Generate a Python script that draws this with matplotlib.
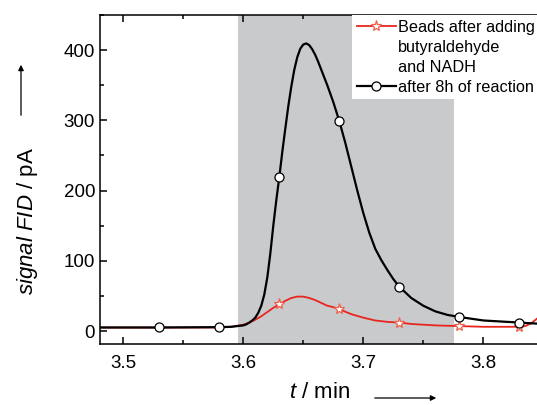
import matplotlib
matplotlib.use("Agg")
import matplotlib.pyplot as plt
from matplotlib.lines import Line2D
from matplotlib.ticker import MultipleLocator

plt.rcParams['font.family'] = ['Liberation Sans', 'DejaVu Sans']
plt.rcParams['mathtext.fontset'] = 'custom'
plt.rcParams['mathtext.rm'] = 'Liberation Sans'
plt.rcParams['mathtext.it'] = 'Liberation Sans:italic'

# black trace: after 8h of reaction
t_black = [3.48, 3.53, 3.58, 3.59, 3.595, 3.60, 3.6025, 3.605, 3.6075, 3.61,
           3.6125, 3.615, 3.6175, 3.62, 3.6225, 3.625, 3.6275, 3.63, 3.6325,
           3.635, 3.6375, 3.64, 3.6425, 3.645, 3.6475, 3.65, 3.6525, 3.655,
           3.6575, 3.66, 3.6625, 3.665, 3.6675, 3.67, 3.675,
           3.68, 3.685, 3.69, 3.695, 3.70, 3.705, 3.71, 3.715, 3.72, 3.725,
           3.73, 3.74, 3.75, 3.76, 3.77, 3.78, 3.80, 3.83, 3.85]
fid_black = [5, 5, 5.5, 6, 7, 8, 9.5, 12, 15, 19,
             26, 36, 52, 76, 110, 150, 186, 219, 255,
             288, 320, 348, 372, 390, 402, 408, 409.5, 407,
             401, 393, 383, 372, 361, 350, 326,
             299, 268, 234, 200, 168, 140, 117, 101, 87, 74,
             63, 47, 36, 28, 23, 20, 15, 12, 10]

# red trace: beads after adding butyraldehyde and NADH
t_red = [3.48, 3.53, 3.58, 3.59, 3.60, 3.605, 3.61, 3.615, 3.62, 3.625,
         3.63, 3.635, 3.64, 3.645, 3.65, 3.655, 3.66, 3.665, 3.67, 3.675,
         3.68, 3.69, 3.70, 3.71, 3.72, 3.73, 3.74, 3.76, 3.78, 3.80,
         3.83, 3.835, 3.84, 3.845, 3.85]
fid_red = [5, 5, 5, 6, 9, 12, 16, 21, 27, 33,
           38, 43, 47, 49, 49, 47, 44, 40, 36, 34,
           31, 24, 19, 15, 13, 12, 10, 8, 7, 6,
           6, 7, 11, 18, 26]

marks_black = [3.53, 3.58, 3.63, 3.68, 3.73, 3.78, 3.83]
marks_red = [3.63, 3.68, 3.73, 3.78, 3.83]

label_red = "Beads after adding"
label_red2 = "butyraldehyde"
label_red3 = "and NADH"
label_black = "after 8h of reaction"

fig = plt.figure(figsize=(5.37, 4.05), dpi=100)
ax = fig.add_axes([100/537, 1-344/405, 443.3/537, 329/405])

ax.axvspan(3.596, 3.776, color='#c9cacc', lw=0, zorder=0)

red, = ax.plot(t_red, fid_red, color='#e8251f', lw=1.3,
               marker='*', ms=8, mfc='white', mec='#f0604a', mew=0.9,
               markevery=[t_red.index(m) for m in marks_red], zorder=2)
black, = ax.plot(t_black, fid_black, color='black', lw=1.6,
                 marker='o', ms=6.5, mfc='white', mec='black', mew=0.9,
                 markevery=[t_black.index(m) for m in marks_black], zorder=3)

ax.set_xlim(3.4806, 3.85)
ax.set_ylim(-18.5, 450)
ax.xaxis.set_major_locator(MultipleLocator(0.1))
ax.xaxis.set_minor_locator(MultipleLocator(0.05))
ax.yaxis.set_major_locator(MultipleLocator(100))
ax.yaxis.set_minor_locator(MultipleLocator(50))
ax.tick_params(which='both', direction='in', top=True, right=False, width=1.1,
               labelsize=13.5)
ax.tick_params(which='major', length=5)
ax.tick_params(which='minor', length=3)
ax.tick_params(axis='x', pad=8)
for s in ax.spines.values():
    s.set_linewidth(1.1)

blank = Line2D([], [], linestyle='none')
leg = ax.legend([red, blank, blank, black],
                [label_red, label_red2, label_red3, label_black],
                loc='upper left', bbox_to_anchor=(352/537, 1-15/405),
                bbox_transform=fig.transFigure, fontsize=11.7,
                frameon=True, facecolor='white', edgecolor='none', framealpha=1,
                fancybox=False, borderaxespad=0, borderpad=0.3,
                labelspacing=0.3, handlelength=2.4, handletextpad=0.15)
leg.set_zorder(5)

fig.text(28/537, 1-221/405, r'$\mathit{signal\ FID}$ / pA', rotation=90,
         ha='center', va='center', fontsize=16)
fig.text(320/537, 1-393/405, r'$\mathit{t}$ / min', ha='center', va='center',
         fontsize=16)
fig.add_artist(matplotlib.patches.FancyArrowPatch(
    (21/537, 1-118/405), (21/537, 1-62/405), transform=fig.transFigure,
    arrowstyle='-|>', mutation_scale=8, lw=0.9, color='black'))
fig.add_artist(matplotlib.patches.FancyArrowPatch(
    (372/537, 1-398/405), (439/537, 1-398/405), transform=fig.transFigure,
    arrowstyle='-|>', mutation_scale=8, lw=0.9, color='black'))

fig.savefig("out.png", dpi=100)
